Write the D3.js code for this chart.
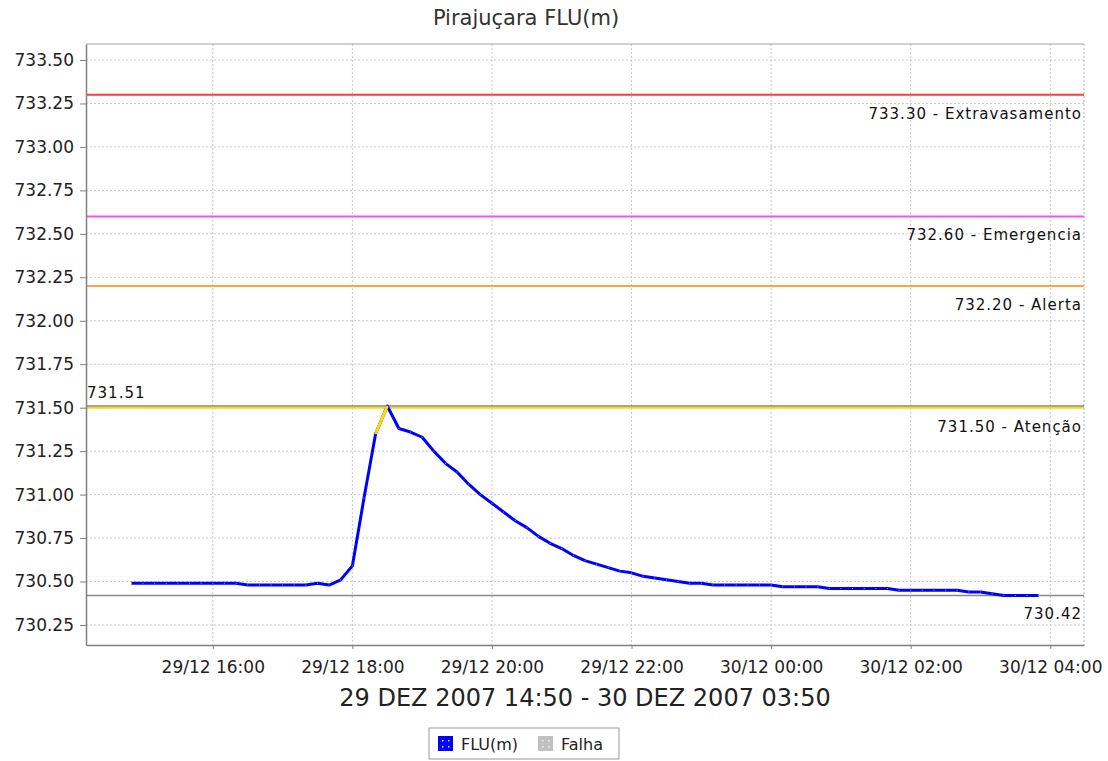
<!DOCTYPE html>
<html>
<head>
<meta charset="utf-8">
<script src="https://cdn.jsdelivr.net/npm/d3@7"></script>
<style>
  html, body { margin: 0; padding: 0; background: #fff; }
  svg { display: block; font-family: "DejaVu Sans", sans-serif; }
</style>
</head>
<body>
<svg id="chart" width="1108" height="761"></svg>
<script>
// readings every 10 minutes, 29/12/2007 14:50 -> 30/12/2007 03:50
const times = [
  "2007-12-29 14:50","2007-12-29 15:00","2007-12-29 15:10","2007-12-29 15:20","2007-12-29 15:30","2007-12-29 15:40",
  "2007-12-29 15:50","2007-12-29 16:00","2007-12-29 16:10","2007-12-29 16:20","2007-12-29 16:30","2007-12-29 16:40",
  "2007-12-29 16:50","2007-12-29 17:00","2007-12-29 17:10","2007-12-29 17:20","2007-12-29 17:30","2007-12-29 17:40",
  "2007-12-29 17:50","2007-12-29 18:00","2007-12-29 18:10","2007-12-29 18:20","2007-12-29 18:30","2007-12-29 18:40",
  "2007-12-29 18:50","2007-12-29 19:00","2007-12-29 19:10","2007-12-29 19:20","2007-12-29 19:30","2007-12-29 19:40",
  "2007-12-29 19:50","2007-12-29 20:00","2007-12-29 20:10","2007-12-29 20:20","2007-12-29 20:30","2007-12-29 20:40",
  "2007-12-29 20:50","2007-12-29 21:00","2007-12-29 21:10","2007-12-29 21:20","2007-12-29 21:30","2007-12-29 21:40",
  "2007-12-29 21:50","2007-12-29 22:00","2007-12-29 22:10","2007-12-29 22:20","2007-12-29 22:30","2007-12-29 22:40",
  "2007-12-29 22:50","2007-12-29 23:00","2007-12-29 23:10","2007-12-29 23:20","2007-12-29 23:30","2007-12-29 23:40",
  "2007-12-29 23:50","2007-12-30 00:00","2007-12-30 00:10","2007-12-30 00:20","2007-12-30 00:30","2007-12-30 00:40",
  "2007-12-30 00:50","2007-12-30 01:00","2007-12-30 01:10","2007-12-30 01:20","2007-12-30 01:30","2007-12-30 01:40",
  "2007-12-30 01:50","2007-12-30 02:00","2007-12-30 02:10","2007-12-30 02:20","2007-12-30 02:30","2007-12-30 02:40",
  "2007-12-30 02:50","2007-12-30 03:00","2007-12-30 03:10","2007-12-30 03:20","2007-12-30 03:30","2007-12-30 03:40",
  "2007-12-30 03:50"
];
const levels = [
  730.49, 730.49, 730.49, 730.49, 730.49, 730.49,
  730.49, 730.49, 730.49, 730.49, 730.48, 730.48,
  730.48, 730.48, 730.48, 730.48, 730.49, 730.48,
  730.51, 730.59, 730.98, 731.35, 731.51, 731.38,
  731.36, 731.33, 731.25, 731.18, 731.13, 731.06,
  731.00, 730.95, 730.90, 730.85, 730.81, 730.76,
  730.72, 730.69, 730.65, 730.62, 730.60, 730.58,
  730.56, 730.55, 730.53, 730.52, 730.51, 730.50,
  730.49, 730.49, 730.48, 730.48, 730.48, 730.48,
  730.48, 730.48, 730.47, 730.47, 730.47, 730.47,
  730.46, 730.46, 730.46, 730.46, 730.46, 730.46,
  730.45, 730.45, 730.45, 730.45, 730.45, 730.45,
  730.44, 730.44, 730.43, 730.42, 730.42, 730.42,
  730.42
];

// alarm thresholds
const limitValues = [733.30, 732.60, 732.20, 731.50];
const limitNames = ["Extravasamento", "Emergencia", "Alerta", "Atenção"];
const limitColors = ["#ff3c3c", "#ff4cff", "#ffa347", "#ffdc00"];

const yTicks = [730.25, 730.50, 730.75, 731.00, 731.25, 731.50, 731.75, 732.00, 732.25, 732.50, 732.75, 733.00, 733.25, 733.50];
const xTickTimes = ["2007-12-29 16:00","2007-12-29 18:00","2007-12-29 20:00","2007-12-29 22:00","2007-12-30 00:00","2007-12-30 02:00","2007-12-30 04:00"];

const title = "Pirajuçara FLU(m)";
const rangeLabel = "29 DEZ 2007 14:50 - 30 DEZ 2007 03:50";
const legendNames = ["FLU(m)", "Falha"];

const parse = d3.timeParse("%Y-%m-%d %H:%M");
const data = times.map((t, i) => ({t: parse(t), v: levels[i]}));

const margin = {top: 44, right: 24, bottom: 116, left: 86};
const width = 1108, height = 761;
const svg = d3.select("#chart");

// 5% margin each side of the data time span
const t0 = data[0].t, t1 = data[data.length - 1].t;
const pad = (t1 - t0) * 0.05;
const x = d3.scaleTime()
    .domain([new Date(+t0 - pad), new Date(+t1 + pad)])
    .range([margin.left, width - margin.right]);
const y = d3.scaleLinear()
    .domain([730.135, 733.592])
    .range([height - margin.bottom, margin.top]);

const fmtY = d3.format(".2f");
const fmtX = d3.timeFormat("%d/%m %H:%M");

// title
svg.append("text")
    .attr("x", 526).attr("y", 25)
    .attr("text-anchor", "middle")
    .attr("font-size", 21)
    .attr("fill", "#333")
    .text(title);

// plot background
svg.append("rect")
    .attr("x", x.range()[0]).attr("y", y.range()[1])
    .attr("width", x.range()[1] - x.range()[0])
    .attr("height", y.range()[0] - y.range()[1])
    .attr("fill", "#fff");

// grid
const grid = svg.append("g").attr("stroke", "#c8c8c8").attr("stroke-dasharray", "2,2");
grid.selectAll("line.gy").data(yTicks).join("line")
    .attr("x1", x.range()[0]).attr("x2", x.range()[1])
    .attr("y1", d => y(d)).attr("y2", d => y(d));
grid.selectAll("line.gx").data(xTickTimes.map(parse)).join("line")
    .attr("x1", d => x(d)).attr("x2", d => x(d))
    .attr("y1", y.range()[1]).attr("y2", y.range()[0]);

// plot frame: top solid, right dashed
svg.append("line")
    .attr("x1", x.range()[0]).attr("x2", x.range()[1])
    .attr("y1", y.range()[1]).attr("y2", y.range()[1])
    .attr("stroke", "#a0a0a0");
svg.append("line")
    .attr("x1", x.range()[1]).attr("x2", x.range()[1])
    .attr("y1", y.range()[1]).attr("y2", y.range()[0])
    .attr("stroke", "#b0b0b0").attr("stroke-dasharray", "2,2");

// threshold lines
const lim = svg.append("g");
limitValues.forEach((v, i) => {
  lim.append("line")
      .attr("x1", x.range()[0]).attr("x2", x.range()[1])
      .attr("y1", y(v)).attr("y2", y(v))
      .attr("stroke", limitColors[i]).attr("stroke-width", 2);
  lim.append("text")
      .attr("x", x.range()[1] - 2).attr("y", y(v) + 24)
      .attr("text-anchor", "end")
      .attr("font-size", 15)
      .attr("letter-spacing", 1)
      .attr("fill", "#111")
      .text(`${fmtY(v)} - ${limitNames[i]}`);
});

// max / min markers
const vmax = d3.max(levels), vmin = d3.min(levels);
svg.append("line")
    .attr("x1", x.range()[0]).attr("x2", x.range()[1])
    .attr("y1", y(vmax)).attr("y2", y(vmax))
    .attr("stroke", "#888").attr("stroke-width", 1.5);
svg.append("text")
    .attr("x", x.range()[0] + 1).attr("y", y(vmax) - 8)
    .attr("font-size", 15).attr("letter-spacing", 1).attr("fill", "#111")
    .text(fmtY(vmax));
svg.append("line")
    .attr("x1", x.range()[0]).attr("x2", x.range()[1])
    .attr("y1", y(vmin)).attr("y2", y(vmin))
    .attr("stroke", "#888").attr("stroke-width", 1.5);
svg.append("text")
    .attr("x", x.range()[1] - 2).attr("y", y(vmin) + 24)
    .attr("text-anchor", "end")
    .attr("font-size", 15).attr("letter-spacing", 1).attr("fill", "#111")
    .text(fmtY(vmin));

// series: blue, segments reaching the attention level drawn in its colour
const line = d3.line().x(d => x(d.t)).y(d => y(d.v));
svg.append("path")
    .datum(data)
    .attr("fill", "none")
    .attr("stroke", "#0000ff")
    .attr("stroke-width", 3)
    .attr("stroke-linejoin", "round")
    .attr("d", line);
const hot = d3.pairs(data).filter(([a, b]) => b.v >= limitValues[3]);
svg.append("g").selectAll("path").data(hot).join("path")
    .attr("fill", "none")
    .attr("stroke", limitColors[3])
    .attr("stroke-width", 3)
    .attr("d", d => line(d));
// faint sample markers
svg.append("g").selectAll("rect").data(data).join("rect")
    .attr("x", d => x(d.t) - 0.5).attr("y", d => y(d.v) - 0.5)
    .attr("width", 1).attr("height", 1)
    .attr("fill", "#fff").attr("opacity", 0.55);

// axes
const yAxis = svg.append("g")
    .attr("transform", `translate(${margin.left},0)`)
    .call(d3.axisLeft(y).tickValues(yTicks).tickFormat(fmtY).tickSize(6).tickPadding(6).tickSizeOuter(0));
yAxis.select(".domain").attr("stroke", "#808080").attr("stroke-width", 1.5);
yAxis.selectAll(".tick line").attr("stroke", "#808080");
yAxis.selectAll(".tick text").attr("font-size", 17).attr("fill", "#222").attr("font-family", "DejaVu Sans");

const xAxis = svg.append("g")
    .attr("transform", `translate(0,${height - margin.bottom})`)
    .call(d3.axisBottom(x).tickValues(xTickTimes.map(parse)).tickFormat(fmtX).tickSize(4).tickPadding(12).tickSizeOuter(0));
xAxis.select(".domain").attr("stroke", "#808080").attr("stroke-width", 1.5);
xAxis.selectAll(".tick line").attr("stroke", "#808080");
xAxis.selectAll(".tick text").attr("font-size", 17).attr("fill", "#222").attr("font-family", "DejaVu Sans");

svg.append("text")
    .attr("x", (x.range()[0] + x.range()[1]) / 2).attr("y", 706)
    .attr("text-anchor", "middle")
    .attr("font-size", 24)
    .attr("fill", "#222")
    .text(rangeLabel);

// legend
const lg = svg.append("g").attr("transform", "translate(429,728)");
lg.append("rect").attr("width", 190).attr("height", 31)
    .attr("fill", "#fff").attr("stroke", "#999");
const swatch = ["#0000ff", "#c0c0c0"];
const lgX = [9, 109];
legendNames.forEach((name, i) => {
  const g = lg.append("g").attr("transform", `translate(${lgX[i]},8)`);
  g.append("rect").attr("width", 15).attr("height", 15).attr("fill", swatch[i]);
  [[4, 4], [10, 4], [4, 10], [10, 10]].forEach(([dx, dy]) =>
    g.append("rect").attr("x", dx).attr("y", dy).attr("width", 1.5).attr("height", 1.5).attr("fill", "#fff").attr("opacity", 0.8));
  g.append("text").attr("x", 23).attr("y", 14)
      .attr("font-size", 16).attr("fill", "#222")
      .text(name);
});
</script>
</body>
</html>
